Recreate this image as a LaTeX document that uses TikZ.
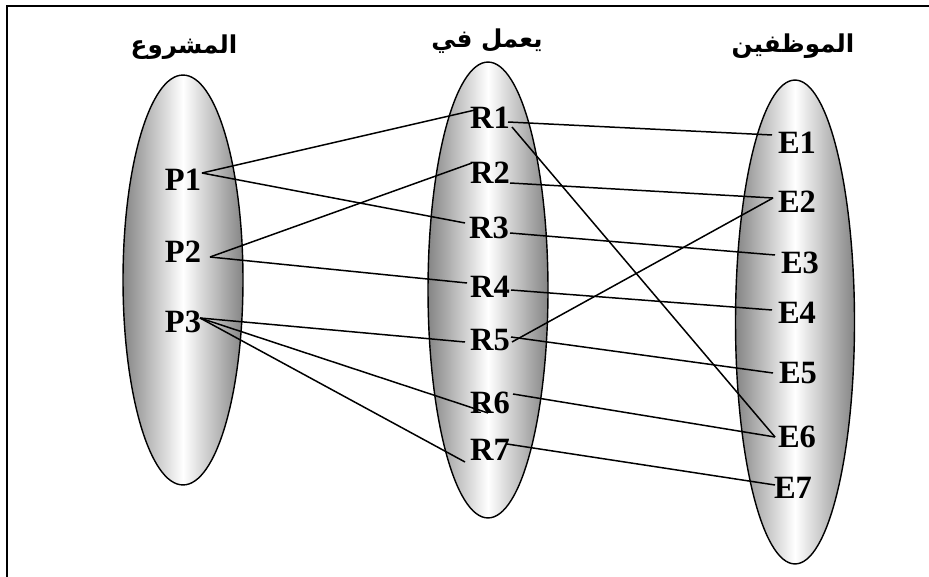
\documentclass[tikz,border=0pt]{standalone}
\usepackage{fontspec}
\setmainfont{Liberation Serif}
\newfontfamily\arabicfont[Script=Arabic]{DejaVu Sans}
\TeXXeTstate=1
\begin{document}
\begin{tikzpicture}[x=0.02cm,y=-0.02cm,
  lbl/.style={font=\fontsize{18.5}{20}\selectfont\bfseries, inner sep=1pt},
  ttl/.style={font=\arabicfont\fontsize{14}{18}\selectfont\bfseries, inner sep=1pt},
  setshape/.style={draw=black, line width=0.8pt, shading angle=0},
  link/.style={line width=0.85pt}]
\useasboundingbox (0,0) rectangle (929,577);
% frame
\draw[line width=1.1pt] (929,6) -- (7,6) -- (7,577);
% sets
\path[setshape, left color=black!48, right color=black!48, middle color=white] (183,280) ellipse [x radius=1.2cm, y radius=4.1cm];
\path[setshape, left color=black!48, right color=black!48, middle color=white] (488,290) ellipse [x radius=1.2cm, y radius=4.56cm];
\path[setshape, left color=black!48, right color=black!48, middle color=white] (795,322) ellipse [x radius=1.19cm, y radius=4.84cm];
% titles
\node[ttl] (tP) at (184,47) {\beginR المشروع\endR};
\node[ttl] (tR) at (487,41) {\beginR يعمل في\endR};
\node[ttl] (tE) at (793,46) {\beginR الموظفين\endR};
% labels
\node[lbl] (P1) at (183,180) {P1};
\node[lbl] (P2) at (183,252) {P2};
\node[lbl] (P3) at (183,322) {P3};
\node[lbl] (R1) at (490,118) {R1};
\node[lbl] (R2) at (490,173) {R2};
\node[lbl] (R3) at (489,228) {R3};
\node[lbl] (R4) at (490,287) {R4};
\node[lbl] (R5) at (490,340) {R5};
\node[lbl] (R6) at (490,403) {R6};
\node[lbl] (R7) at (490,450) {R7};
\node[lbl] (E1) at (797,143) {E1};
\node[lbl] (E2) at (797,202) {E2};
\node[lbl] (E3) at (800,263) {E3};
\node[lbl] (E4) at (797,313) {E4};
\node[lbl] (E5) at (798,373) {E5};
\node[lbl] (E6) at (797,437) {E6};
\node[lbl] (E7) at (793,488) {E7};
% connectors P -> R
\draw[link] ([shift={(19,-7)}]P1.center) -- ([shift={(-15,-8)}]R1.center);
\draw[link] ([shift={(19,-7)}]P1.center) -- ([shift={(-24,-5)}]R3.center);
\draw[link] ([shift={(27,5)}]P2.center) -- ([shift={(-18,-10)}]R2.center);
\draw[link] ([shift={(27,5)}]P2.center) -- ([shift={(-23,-4)}]R4.center);
\draw[link] ([shift={(17,-4)}]P3.center) -- ([shift={(-25,2)}]R5.center);
\draw[link] ([shift={(17,-4)}]P3.center) -- ([shift={(-2,10)}]R6.center);
\draw[link] ([shift={(17,-4)}]P3.center) -- ([shift={(-25,12)}]R7.center);
% connectors R -> E
\draw[link] ([shift={(18,4)}]R1.center) -- ([shift={(-25,-8)}]E1.center);
\draw[link] ([shift={(22,9)}]R1.center) -- ([shift={(-22,0)}]E6.center);
\draw[link] ([shift={(20,10)}]R2.center) -- ([shift={(-24,-4)}]E2.center);
\draw[link] ([shift={(21,5)}]R3.center) -- ([shift={(-25,-8)}]E3.center);
\draw[link] ([shift={(21,3)}]R4.center) -- ([shift={(-25,-3)}]E4.center);
\draw[link] ([shift={(22,2)}]R5.center) -- ([shift={(-24,-4)}]E2.center);
\draw[link] ([shift={(21,-3)}]R5.center) -- ([shift={(-25,0)}]E5.center);
\draw[link] ([shift={(23,-9)}]R6.center) -- ([shift={(-22,0)}]E6.center);
\draw[link] ([shift={(17,-6)}]R7.center) -- ([shift={(-18,-3)}]E7.center);
\end{tikzpicture}
\end{document}
